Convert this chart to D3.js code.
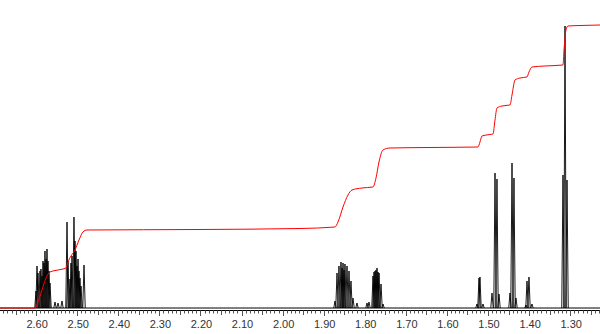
<!DOCTYPE html>
<html>
<head>
<meta charset="utf-8">
<script src="https://cdn.jsdelivr.net/npm/d3@7"></script>
<style>
  body { margin: 0; background: #fff; }
  svg { display: block; }
</style>
</head>
<body>
<svg id="chart"></svg>
<script>
// peak positions (ppm) and heights
const peakPpm = [
  2.6004, 2.5979, 2.5955, 2.5906, 2.5882, 2.5858, 2.5833, 2.5809, 2.5785, 2.5760,
  2.5736, 2.5712, 2.5687, 2.5663, 2.5541, 2.5468, 2.5371,
  2.5249, 2.5225, 2.5176, 2.5152, 2.5127, 2.5079, 2.5054, 2.5030, 2.5006,
  2.4981, 2.4957, 2.4933, 2.4908, 2.4835,
  1.8725, 1.8676, 1.8628, 1.8579, 1.8554, 1.8530, 1.8506, 1.8482, 1.8433, 1.8384,
  1.8336, 1.8287, 1.8190, 1.7946, 1.7897,
  1.7800, 1.7775, 1.7751, 1.7727, 1.7702, 1.7678, 1.7653, 1.7605, 1.7556,
  1.5269, 1.5220, 1.5196, 1.5122,
  1.4903, 1.4830, 1.4782, 1.4733,
  1.4465, 1.4416, 1.4368, 1.4319,
  1.4076, 1.4051, 1.4003, 1.3930,
  1.3175, 1.3126, 1.3077
];
const peakHeight = [
  17, 42, 35, 37, 39, 32, 47, 45, 57, 49,
  59, 47, 37, 25, 6, 5, 7,
  86, 47, 29, 45, 52, 91, 67, 57, 42,
  49, 37, 30, 22, 43,
  7, 35, 42, 46, 40, 45, 38, 44, 42, 37,
  27, 10, 5, 5, 6,
  32, 36, 37, 38, 40, 36, 35, 24, 4,
  4, 30, 31, 4,
  15, 135, 129, 14,
  15, 145, 130, 10,
  3, 27, 31, 4,
  133, 282, 128
];

// integral trace (ppm, value)
const integralPpm = [
  2.688, 2.6028, 2.5955, 2.5858, 2.5760, 2.5663, 2.5468, 2.5273, 2.5225, 2.5152,
  2.5054, 2.4957, 2.4860, 2.4762, 2.2011, 1.9577, 1.8725, 1.8652, 1.8530, 1.8409,
  1.8311, 1.8068, 1.7800, 1.7727, 1.7654, 1.7557, 1.7386, 1.6413, 1.5244, 1.5196,
  1.5147, 1.4952, 1.4879, 1.4830, 1.4782, 1.4660, 1.4465, 1.4416, 1.4343, 1.4222,
  1.4051, 1.4003, 1.3930, 1.3613, 1.3175, 1.3150, 1.3102, 1.3053, 1.2761, 1.2274
];
const integralValue = [
  0, 0, 6, 18, 30, 36, 38, 40, 46, 52,
  58, 68, 76, 78, 78.5, 79.5, 81, 86, 101, 113,
  118, 120, 121, 130, 146, 158, 160, 160.5, 161, 166,
  172, 173.5, 174, 188, 200, 202, 203, 213, 228, 230,
  231, 236, 241, 242, 243, 258, 278, 282, 282.5, 283
];

const tickValues = [2.6, 2.5, 2.4, 2.3, 2.2, 2.1, 2.0, 1.9, 1.8, 1.7, 1.6, 1.5, 1.4, 1.3];

const width = 600;
const height = 334;
const baseY = 308;
const axisY = 310;

const svg = d3.select("#chart").attr("width", width).attr("height", height);

const x = d3.scaleLinear().domain([2.688, 1.2274]).range([0, width]);
const y = d3.scaleLinear().domain([0, 300]).range([baseY, 8]);

// baseline of spectrum
svg.append("line")
  .attr("x1", 0).attr("x2", width)
  .attr("y1", y(0)).attr("y2", y(0))
  .attr("stroke", "#000").attr("stroke-width", 1);

// peaks
const halfW = 0.003;
const peakLine = d3.line().x(d => x(d[0])).y(d => y(d[1]));
const peaks = peakPpm.map((p, i) => [[p + halfW, 0], [p, peakHeight[i]], [p - halfW, 0]]);

svg.append("g")
  .selectAll("path")
  .data(peaks)
  .join("path")
  .attr("d", peakLine)
  .attr("fill", "none")
  .attr("stroke", "#000")
  .attr("stroke-width", 0.9);

// integral curve
const integral = integralPpm.map((p, i) => [p, integralValue[i]]);
const integralLine = d3.line()
  .x(d => x(d[0]))
  .y(d => y(d[1]))
  .curve(d3.curveMonotoneX);

svg.append("path")
  .datum(integral)
  .attr("d", integralLine)
  .attr("fill", "none")
  .attr("stroke", "#ff0000")
  .attr("stroke-width", 1);

// x axis
const axisG = svg.append("g").attr("transform", `translate(0,${axisY})`);
axisG.append("line")
  .attr("x1", 0).attr("x2", width)
  .attr("y1", 0.5).attr("y2", 0.5)
  .attr("stroke", "#000");

const minor = d3.range(268, 122, -1).map(v => v / 100);
axisG.selectAll("line.minor")
  .data(minor)
  .join("line")
  .attr("class", "minor")
  .attr("x1", d => Math.round(x(d)) + 0.5)
  .attr("x2", d => Math.round(x(d)) + 0.5)
  .attr("y1", 0.5)
  .attr("y2", d => {
    const k = Math.round(d * 100);
    return k % 10 === 0 ? 6 : (k % 5 === 0 ? 5 : 3.5);
  })
  .attr("stroke", "#555");

axisG.selectAll("text")
  .data(tickValues)
  .join("text")
  .attr("x", d => x(d) + 1)
  .attr("y", 18)
  .attr("text-anchor", "middle")
  .style("font-family", "Arial, 'Liberation Sans', sans-serif")
  .style("font-size", "11px")
  .attr("fill", "#333")
  .text(d => d.toFixed(2));
</script>
</body>
</html>
